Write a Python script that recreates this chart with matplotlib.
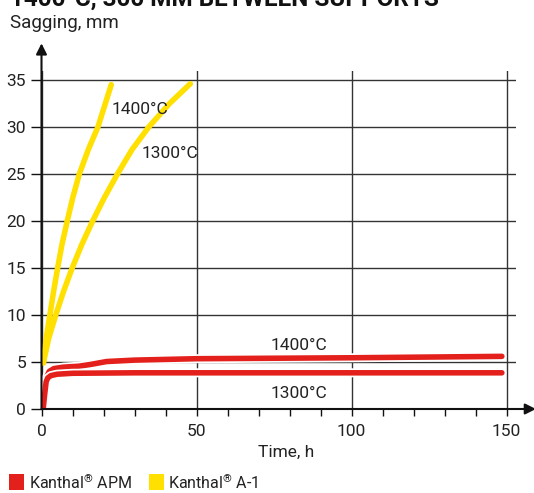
import matplotlib
matplotlib.use('Agg')
import matplotlib.pyplot as plt
import matplotlib.patheffects as pe
from matplotlib.patches import Rectangle
from matplotlib.ticker import MultipleLocator

plt.rcParams['font.family'] = ['Roboto', 'DejaVu Sans']
plt.rcParams['mathtext.fontset'] = 'custom'
plt.rcParams['mathtext.rm'] = 'Roboto'
plt.rcParams['mathtext.it'] = 'Roboto'

# Kanthal A-1 (yellow)
a1_1400_t = [0.6, 1.5, 2.7, 3.9, 5.2, 6.6, 8.3, 10.1, 12.2, 15.1, 18.2, 20.4, 22.5]
a1_1400_y = [4.9, 7.5, 10, 12.5, 15, 17.5, 20, 22.5, 25, 27.6, 30, 32.3, 34.5]
a1_1300_t = [0.6, 2.3, 4.6, 7.1, 9.9, 13.0, 16.5, 20.3, 24.5, 29.2, 34.6, 41.3, 48.0]
a1_1300_y = [4.9, 7.5, 10, 12.5, 15, 17.5, 20, 22.5, 25, 27.6, 30, 32.5, 34.6]

# Kanthal APM (red)
apm_1400_t = [0.6, 1.0, 1.5, 2.5, 4, 7, 12, 16, 21, 30, 50, 100, 148.5]
apm_1400_y = [0.2, 1.6, 3.3, 4.0, 4.3, 4.45, 4.55, 4.75, 5.05, 5.2, 5.35, 5.45, 5.6]
apm_1300_t = [0.6, 1.0, 1.5, 2.0, 3, 5, 10, 30, 148.5]
apm_1300_y = [0.2, 1.5, 2.9, 3.3, 3.55, 3.7, 3.8, 3.85, 3.85]

RED = '#e3201b'
YELLOW = '#ffe000'
TXT = '#222222'

W, H = 534, 493
fig = plt.figure(figsize=(W / 100, H / 100), dpi=100)
x0, y0 = 41.5, 409
px_h, px_mm = 3.1, 9.4
xmax, ymax = 153, 36
ax = fig.add_axes([x0 / W, 1 - y0 / H, xmax * px_h / W, ymax * px_mm / H])
ax.set_xlim(0, xmax)
ax.set_ylim(0, ymax)

for s in ['top', 'right', 'left', 'bottom']:
    ax.spines[s].set_visible(False)

ax.set_xticks([0, 50, 100, 150])
ax.xaxis.set_minor_locator(MultipleLocator(10))
ax.set_yticks(range(0, 36, 5))
ax.grid(True, which='major', color='#333333', lw=1.0)
ax.set_axisbelow(True)
ax.tick_params(axis='x', which='both', direction='out', length=5, width=1, color='#111',
               pad=6, labelsize=12.5, labelcolor=TXT)
ax.tick_params(axis='y', which='both', direction='out', length=8, width=1, color='#111',
               pad=3, labelsize=12.5, labelcolor=TXT)

# axis arrows
arw = dict(arrowstyle='-|>', lw=1.5, color='#111111', mutation_scale=16, shrinkA=0, shrinkB=0)
ax.annotate('', xy=(159.5, 0), xytext=(0, 0), arrowprops=arw, annotation_clip=False)
ax.annotate('', xy=(0, 38.9), xytext=(0, 0), arrowprops=arw, annotation_clip=False)

halo = [pe.Stroke(linewidth=6.5, foreground='white'), pe.Normal()]
ax.plot(a1_1400_t, a1_1400_y, color=YELLOW, lw=4, solid_capstyle='round', solid_joinstyle='round')
ax.plot(a1_1300_t, a1_1300_y, color=YELLOW, lw=4, solid_capstyle='round', solid_joinstyle='round')
ax.plot(apm_1400_t, apm_1400_y, color=RED, lw=4, solid_capstyle='round', solid_joinstyle='round',
        path_effects=halo)
ax.plot(apm_1300_t, apm_1300_y, color=RED, lw=4, solid_capstyle='round', solid_joinstyle='round',
        path_effects=halo)

ax.text(22.5, 31.9, '1400°C', fontsize=12.5, color=TXT, va='center', ha='left')
ax.text(32.2, 27.2, '1300°C', fontsize=12.5, color=TXT, va='center', ha='left')
ax.text(83, 6.8, '1400°C', fontsize=12.5, color=TXT, va='center', ha='center')
ax.text(83, 1.7, '1300°C', fontsize=12.5, color=TXT, va='center', ha='center')

ax.text(79, -4.6, 'Time, h', fontsize=12.5, color=TXT, va='center', ha='center')

fig.text(10 / W, 1 - 7 / H, '1400°C, 300 MM BETWEEN SUPPORTS', fontsize=17.5, fontweight='bold',
         color='#111111', va='baseline', ha='left')
fig.text(10 / W, 1 - 28.5 / H, 'Sagging, mm', fontsize=13.5, color=TXT, va='baseline', ha='left')

# legend
fig.patches.append(Rectangle((9 / W, 1 - 490 / H), 15 / W, 16 / H, transform=fig.transFigure,
                             facecolor=RED, edgecolor='none'))
fig.text(29 / W, 1 - 489 / H, r'Kanthal$^{\mathrm{®}}$ APM', fontsize=11.5, color=TXT,
         va='baseline', ha='left')
fig.patches.append(Rectangle((149 / W, 1 - 490 / H), 15 / W, 16 / H, transform=fig.transFigure,
                             facecolor=YELLOW, edgecolor='none'))
fig.text(168 / W, 1 - 489 / H, r'Kanthal$^{\mathrm{®}}$ A-1', fontsize=11.5, color=TXT,
         va='baseline', ha='left')

fig.savefig('out.png', dpi=100)
